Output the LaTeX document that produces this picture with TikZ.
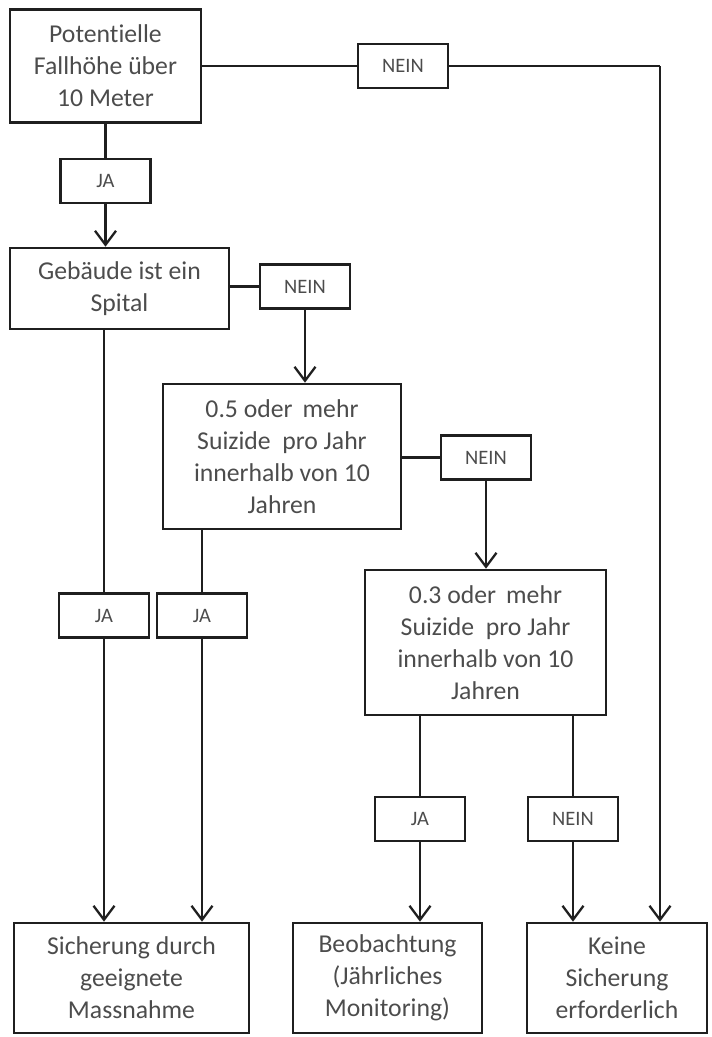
\documentclass[tikz,border=0pt]{standalone}
\usepackage{fontspec}
\setmainfont{Carlito}[Ligatures=NoCommon]
\usetikzlibrary{arrows.meta}
\begin{document}
\begin{tikzpicture}[x=1pt,y=-1pt,
  box/.style={draw=black!88, line width=2.6pt, align=center, inner sep=0pt,
    text=black!70, font=\fontsize{25.7}{32}\selectfont},
  tag/.style={draw=black!88, line width=2.6pt, inner sep=0pt,
    minimum width=90pt, minimum height=44pt,
    text=black!70, font=\fontsize{20.5}{24}\selectfont},
  link/.style={draw=black!88, line width=2.3pt},
  arr/.style={link, -{Straight Barb[length=14pt,width=21pt,line width=2.3pt]}}
]
\useasboundingbox (0,0) rectangle (712,1037);

% decision boxes
\node[box, minimum width=191pt, minimum height=113pt] (q1) at (105.5,66)
  {Potentielle\\Fallhöhe über\\10 Meter};
\node[box, minimum width=219pt, minimum height=81pt] (q2) at (119.5,288.5)
  {Gebäude ist ein\\Spital};
\node[box, minimum width=238pt, minimum height=145pt] (q3) at (282,456.5)
  {0.5 oder\,\ mehr\\Suizide~ pro Jahr\\innerhalb von 10\\Jahren};
\node[box, minimum width=241pt, minimum height=145pt] (q4) at (485.5,642.5)
  {0.3 oder\,\ mehr\\Suizide~ pro Jahr\\innerhalb von 10\\Jahren};

% outcome boxes
\node[box, minimum width=235pt, minimum height=110pt] (r1) at (131.5,978)
  {Sicherung durch\\geeignete\\Massnahme};
\node[box, minimum width=189pt, minimum height=110pt] (r2) at (387.5,978)
  {Beobachtung\\(Jährliches\\Monitoring)};
\node[box, minimum width=180pt, minimum height=110pt] (r3) at (617,978)
  {Keine\\Sicherung\\erforderlich};

% answer tags
\node[tag] (ja1) at (105.5,181) {JA};
\node[tag] (nein1) at (403,66) {NEIN};
\node[tag] (nein2) at (305,286.5) {NEIN};
\node[tag] (nein3) at (486,457.5) {NEIN};
\node[tag] (ja2) at (104,615.5) {JA};
\node[tag] (ja3) at (202,615.5) {JA};
\node[tag] (ja4) at (420,819) {JA};
\node[tag] (nein4) at (573,819) {NEIN};

% corner of the long NEIN path
\coordinate (c1) at (660,66);

% question 1
\draw[link] (q1) -- (nein1);
\draw[link] (nein1) -- (c1);
\draw[arr] (c1) -- (c1 |- r3.north);
\draw[link] (q1.south -| ja1) -- (ja1);
\draw[arr] (ja1) -- (ja1 |- q2.north);

% question 2
\draw[link] (q2.east |- nein2) -- (nein2);
\draw[arr] (nein2) -- (nein2 |- q3.north);
\draw[link] (q2.south -| ja2) -- (ja2);
\draw[arr] (ja2) -- (ja2 |- r1.north);

% question 3
\draw[link] (q3.east |- nein3) -- (nein3);
\draw[arr] (nein3) -- (nein3 |- q4.north);
\draw[link] (q3.south -| ja3) -- (ja3);
\draw[arr] (ja3) -- (ja3 |- r1.north);

% question 4
\draw[link] (q4.south -| ja4) -- (ja4);
\draw[arr] (ja4) -- (ja4 |- r2.north);
\draw[link] (q4.south -| nein4) -- (nein4);
\draw[arr] (nein4) -- (nein4 |- r3.north);
\end{tikzpicture}
\end{document}
